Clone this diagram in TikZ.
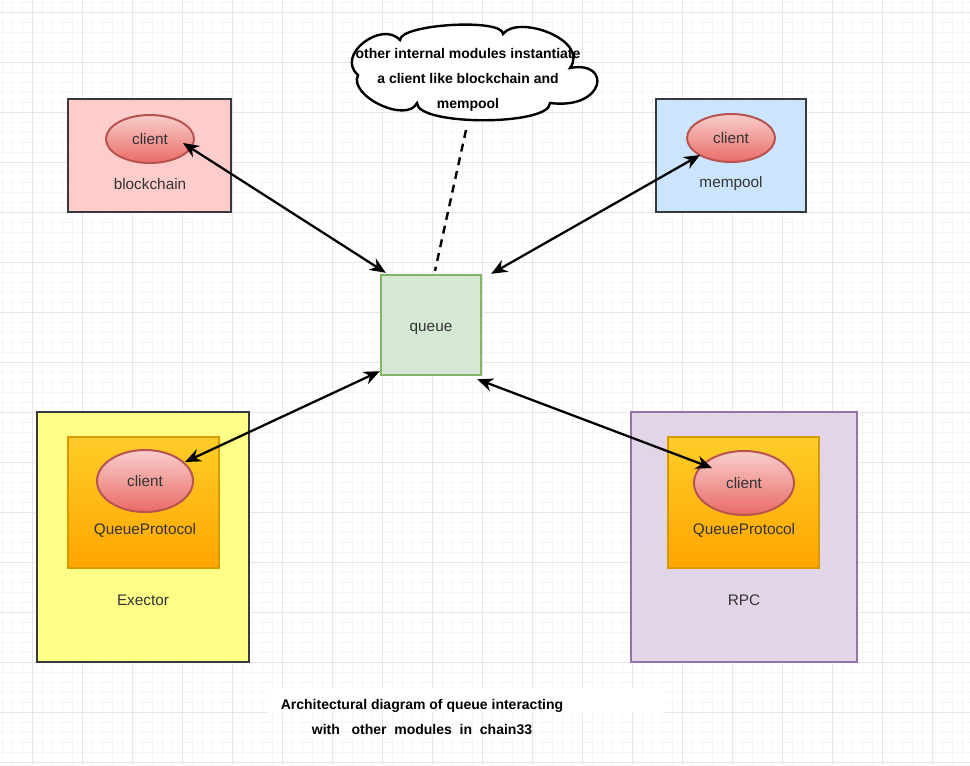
\documentclass[tikz,border=0pt]{standalone}
\usepackage{fontspec}
\setmainfont{Liberation Sans}
\usepackage{tikz}
\usetikzlibrary{arrows.meta,shapes.geometric,positioning,calc}
\definecolor{gridmin}{HTML}{F5F5F5}
\definecolor{gridmaj}{HTML}{E6E6E6}
\definecolor{boxline}{HTML}{36393D}
\definecolor{bcfill}{HTML}{FFCCCC}
\definecolor{mpfill}{HTML}{CCE5FF}
\definecolor{qfill}{HTML}{D5E8D4}
\definecolor{qline}{HTML}{82B366}
\definecolor{exfill}{HTML}{FFFF88}
\definecolor{rpcfill}{HTML}{E1D5E7}
\definecolor{rpcline}{HTML}{9673A6}
\definecolor{prototop}{HTML}{FFCD28}
\definecolor{protobot}{HTML}{FFA500}
\definecolor{protoline}{HTML}{D79B00}
\definecolor{clienttop}{HTML}{F8CECC}
\definecolor{clientbot}{HTML}{EA6B66}
\definecolor{clientline}{HTML}{B85450}
\definecolor{txt}{HTML}{333333}
\newcommand{\labfont}{\fontsize{11.5}{13}\selectfont}
\newcommand{\notefont}{\fontsize{10.5}{19}\selectfont\bfseries}

\begin{document}
\begin{tikzpicture}[x=0.75pt,y=-0.75pt,
modbox/.style={rectangle,draw=#1,line width=1.8pt,inner sep=0pt},
protobox/.style={rectangle,draw=protoline,line width=1.5pt,top color=prototop,bottom color=protobot,minimum width=113pt,minimum height=98pt},
client/.style={ellipse,draw=clientline,line width=1.5pt,top color=clienttop,bottom color=clientbot,inner sep=0pt,font=\labfont,text=txt},
lab/.style={font=\labfont,text=txt},
note/.style={font=\notefont,align=center,inner sep=0pt},
link/.style={{Stealth[length=12pt,width=10pt]}-{Stealth[length=12pt,width=10pt]},line width=1.7pt}]
\useasboundingbox (0,0) rectangle (970,765);
\fill[white] (0,0) rectangle (970,765);
% grid
\foreach \x in {2,12,...,962} \draw[gridmin,line width=0.75pt] (\x,0) -- (\x,765);
\foreach \y in {2,12,...,762} \draw[gridmin,line width=0.75pt] (0,\y) -- (970,\y);
\foreach \x in {32,82,...,932} \draw[gridmaj,line width=0.75pt] (\x,0) -- (\x,765);
\foreach \y in {12,62,...,762} \draw[gridmaj,line width=0.75pt] (0,\y) -- (970,\y);

% modules
\node (bc) at (149.5,155.5) [modbox=boxline,fill=bcfill,minimum width=122pt,minimum height=85pt] {};
\node (bcclient) at (150,139) [client,minimum width=66pt,minimum height=36pt] {client};
\node (bclab) at (150,184) [lab] {blockchain};

\node (mp) at (731,155.5) [modbox=boxline,fill=mpfill,minimum width=112.5pt,minimum height=85pt] {};
\node (mpclient) at (731,138) [client,minimum width=66pt,minimum height=36pt] {client};
\node (mplab) at (731,184) [lab] {mempool};

\node (q) at (431,325) [modbox=qline,fill=qfill,minimum width=75pt,minimum height=75pt] {};
\node (qlab) at (431,329) [lab] {queue};

\node (ex) at (143,537) [modbox=boxline,fill=exfill,minimum width=159pt,minimum height=187.5pt] {};
\node (exproto) at (143.5,502.5) [protobox] {};
\node (exclient) at (145,481) [client,minimum width=72pt,minimum height=46.5pt] {client};
\node (exprotolab) at (145,530) [lab] {QueueProtocol};
\node (exlab) at (143,600) [lab] {Exector};

\node (rpc) at (744,537) [modbox=rpcline,fill=rpcfill,minimum width=169.5pt,minimum height=187.5pt] {};
\node (rpcproto) at (743.5,502.5) [protobox] {};
\node (rpcclient) at (744,483) [client,minimum width=75pt,minimum height=48pt] {client};
\node (rpcprotolab) at (744,530) [lab] {QueueProtocol};
\node (rpclab) at (744,600) [lab] {RPC};

% note cloud
\draw[line width=1.8pt,fill=white] (358,75) .. controls (335,55) and (382,20) .. (400,40)
  .. controls (400,24) and (503,18) .. (503,34)
  .. controls (518,14) and (590,40) .. (570,68)
  .. controls (612,60) and (606,110) .. (550,103)
  .. controls (550,126) and (417,126) .. (417,103)
  .. controls (407,124) and (348,96) .. cycle;
\node (cloudtxt) at (468,80) [note] {other internal modules instantiate\\a client like blockchain and\\mempool};
\draw[line width=1.8pt,dash pattern=on 6pt off 4.5pt] ([shift={(-2,50)}]cloudtxt.center) -- ([shift={(4,-3)}]q.north);

% links
\draw[link] ([shift={(33,4)}]bcclient.center) -- ([shift={(6,-1)}]q.north west);
\draw[link] ([shift={(-31,17)}]mpclient.center) -- ([shift={(9,0)}]q.north east);
\draw[link] ([shift={(40,-19)}]exclient.center) -- ([shift={(0,-5)}]q.south west);
\draw[link] ([shift={(-32,-15)}]rpcclient.center) -- ([shift={(-5,3)}]q.south east);

% caption
\fill[white] (268,688) rectangle (665,713);
\node (cap) at (422,717) [note,font=\fontsize{10.5}{18.75}\selectfont\bfseries] {Architectural diagram of queue interacting\\with\ \ \ other\ \ modules\ \ in\ \ chain33};
\end{tikzpicture}
\end{document}
